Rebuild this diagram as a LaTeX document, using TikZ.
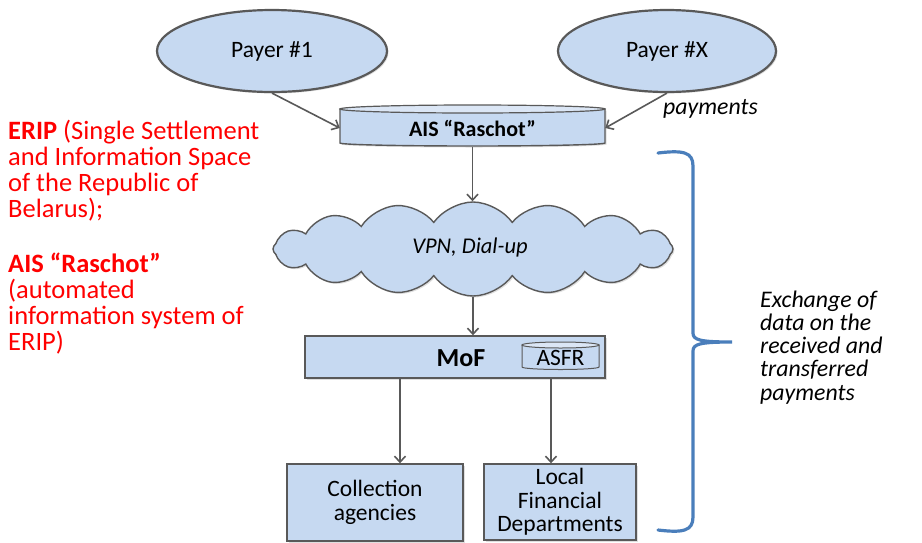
\documentclass[tikz,border=0pt]{standalone}
\usepackage{fontspec}
\setmainfont{Carlito}
\usetikzlibrary{shapes.geometric,shapes.symbols,arrows.meta,shadows}
\definecolor{boxfill}{RGB}{198,217,241}
\definecolor{topfill}{RGB}{219,230,245}
\definecolor{edgec}{RGB}{89,89,89}
\definecolor{bracec}{RGB}{74,126,187}
\definecolor{redtxt}{RGB}{255,0,0}
\begin{document}
\begin{tikzpicture}[x=1pt,y=-1pt,
  shp/.style={draw=edgec, line width=1.4pt, fill=boxfill,
    drop shadow={opacity=0.25,shadow xshift=1.5pt,shadow yshift=-1.5pt}},
  ell/.style={shp, ellipse, line width=2.2pt, inner sep=0pt, minimum height=82pt,
    font=\fontsize{23.5}{26}\selectfont},
  conn/.style={draw=edgec, line width=1.6pt, -{Straight Barb[length=6pt,width=11pt,line width=1.6pt]}},
  boxnode/.style={shp, rectangle, inner sep=0pt, align=center, font=\fontsize{23.5}{24.5}\selectfont},
  redline/.style={anchor=base west, inner sep=0pt, text=redtxt, font=\fontsize{26.5}{26}\selectfont},
  itline/.style={anchor=base west, inner sep=0pt, font=\fontsize{23.8}{24}\itshape\selectfont},
]
\useasboundingbox (0,0) rectangle (922,542);

% payers
\node[ell, minimum width=230pt] (p1) at (272,51) {Payer \#1};
\node[ell, minimum width=218pt] (px) at (667,51) {Payer \#X};

% AIS cylinder
\path[shp] (340,109) -- (340,143) arc[start angle=180,end angle=0,x radius=132.5,y radius=3] -- (605,109) -- cycle;
\path[draw=edgec, line width=1.2pt, fill=topfill] (472.5,109) ellipse[x radius=132.5, y radius=4];
\node[minimum width=265pt, minimum height=37pt, inner sep=0pt, font=\fontsize{22}{24}\bfseries\selectfont] (ais) at (472.5,128) {AIS “Raschot”};

% payments label
\node[anchor=base west, inner sep=0pt, font=\fontsize{23.8}{24}\itshape\selectfont] (paylbl) at (663,114) {payments};

% cloud
\node[shp, cloud, cloud puffs=16, cloud puff arc=110, aspect=4.3, minimum width=400pt, minimum height=94pt, inner sep=0pt] (cloud) at (473,249) {};
\node[font=\fontsize{22.5}{24}\itshape\selectfont] (vpn) at (470,247) {VPN, Dial-up};

% MoF
\node[shp, rectangle, minimum width=300pt, minimum height=42pt, inner sep=0pt] (mof) at (455,357) {};
\node[font=\fontsize{26}{28}\bfseries\selectfont, inner sep=0pt] (moftxt) at (461,358) {MoF};
\path[draw=edgec, line width=1pt, fill=boxfill] (522,345) -- (522,367) arc[start angle=180,end angle=0,x radius=38.5,y radius=2.5] -- (599,345) -- cycle;
\path[draw=edgec, line width=1pt, fill=topfill] (560.5,345) ellipse[x radius=38.5, y radius=3];
\node[font=\fontsize{23.5}{24}\selectfont, inner sep=0pt] (asfr) at (560.5,358) {ASFR};

% bottom boxes
\node[boxnode, minimum width=176pt, minimum height=77pt] (col) at (375,502.5) {Collection\\agencies};
\node[boxnode, minimum width=152pt, minimum height=76pt, font=\fontsize{23.5}{23.3}\selectfont] (lfd) at (560,502) {Local\\Financial\\Departments};

% connectors
\draw[conn] (p1.south) -- (ais.west);
\draw[conn] (px.south) -- (ais.east);
\draw[conn] (ais.south) -- (ais.south |- cloud.north);
\draw[conn] (cloud.south) -- (cloud.south |- mof.north);
\coordinate (c1) at (400,0);
\coordinate (c2) at (551,0);
\draw[conn] (mof.south -| c1) -- (c1 |- col.north);
\draw[conn] (mof.south -| c2) -- (c2 |- lfd.north);

% brace
\draw[bracec, line width=3.2pt, line cap=round]
  (658,153) .. controls (683,150) and (693,152) .. (693,166) -- (693,333)
  .. controls (693,340) and (700,342) .. (732,342)
  .. controls (700,342) and (693,344) .. (693,351) -- (693,517)
  .. controls (693,531) and (683,533) .. (658,530);

% brace text
\foreach \t [count=\i] in {Exchange of, data on the, received and, transferred, payments}
  \node[itline] (ex\i) at (760, {307+23.3*(\i-1)}) {\t};

% left red text
\foreach \t [count=\i] in {{\textbf{ERIP} (Single Settlement}, {and Information Space}, {of the Republic of}, {Belarus);}}
  \node[redline] (ra\i) at (8, {139+26*(\i-1)}) {\t};
\foreach \t [count=\i] in {{\textbf{AIS “Raschot”}}, {(automated}, {information system of}, {ERIP)}}
  \node[redline] (rb\i) at (8, {272+26*(\i-1)}) {\t};
\end{tikzpicture}
\end{document}
